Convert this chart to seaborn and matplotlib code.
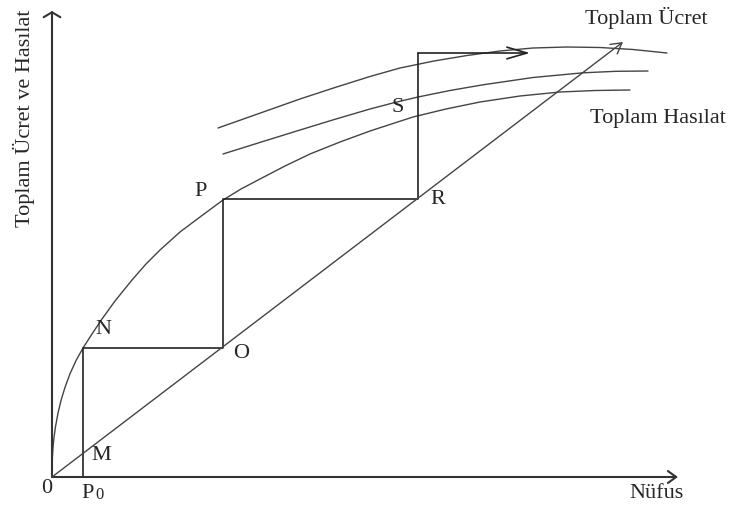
import matplotlib
matplotlib.use("Agg")
import matplotlib.pyplot as plt
import seaborn as sns

# diagram values (population on x, total wage / output on y)
hasilat_x = [0, 0.04, 0.1, 0.2, 0.35, 0.6, 0.9, 1.3, 1.8, 2.4, 3.1, 4.0, 5.0, 6.3, 8.0,
             9.4, 10.8, 12.8, 14.8, 17.1, 18.9, 20.8, 23.3, 25.8, 28.8, 31.8, 36.1,
             39.4, 42.8, 46.8, 50.8, 54.3, 57.8]
hasilat_y = [0, 2.0, 2.96, 3.96, 5.04, 6.39, 7.65, 8.97, 10.32, 11.64, 12.9, 14.3, 15.8,
             17.6, 19.7, 21.3, 22.7, 24.5, 26.0, 27.7, 28.8, 29.8, 31.1, 32.3, 33.5,
             34.6, 36.0, 36.8, 37.5, 38.1, 38.5, 38.65, 38.7]

hasilat2_x = [17.1, 21.0, 24.8, 28.3, 31.8, 34.2, 36.6, 39.8, 43.1, 48.1, 53.1, 56.4, 59.6]
hasilat2_y = [32.3, 33.52, 34.7, 35.77, 36.8, 37.43, 38.0, 38.65, 39.22, 39.95, 40.42,
              40.57, 40.6]

hasilat3_x = [16.6, 20.7, 24.8, 28.3, 31.8, 34.8, 38.2, 41.5, 44.8, 48.1, 51.5, 54.8,
              58.1, 61.5]
hasilat3_y = [34.9, 36.35, 37.8, 38.95, 40.05, 40.9, 41.6, 42.15, 42.6, 42.9, 43.0,
              42.95, 42.75, 42.4]

ucret_x = [0, 57.1]
ucret_y = [0, 43.5]

stair_x = [3.1, 3.1, 17.1, 17.1, 36.6, 36.6]
stair_y = [0, 12.9, 12.9, 27.8, 27.8, 42.4]
stair_end = 47.8

axis_x_max = 62.6
axis_y_max = 46.6

points = {"M": (4.9, 2.2), "N": (5.1, 14.8), "O": (18.9, 12.4), "P": (14.9, 28.6),
          "R": (38.6, 27.9), "S": (34.6, 37.0)}

sns.set_theme(style="white")
plt.rcParams['font.family'] = ['Liberation Serif', 'DejaVu Serif']

fig = plt.figure(figsize=(7.37, 5.10), dpi=100)
ax = fig.add_axes([0, 0, 1, 1])

curve_kw = dict(color='#444444', linewidth=1.0, sort=False, estimator=None, ax=ax)
sns.lineplot(x=hasilat_x, y=hasilat_y, **curve_kw)
sns.lineplot(x=hasilat2_x, y=hasilat2_y, **curve_kw)
sns.lineplot(x=hasilat3_x, y=hasilat3_y, **curve_kw)
sns.lineplot(x=stair_x, y=stair_y, color='#222222', linewidth=1.2, sort=False, estimator=None, ax=ax)

def arrow(x0, y0, x1, y1, hl, hw, lw, color):
    ax.annotate('', xy=(x1, y1), xytext=(x0, y0),
                arrowprops=dict(arrowstyle=f'->,head_length={hl},head_width={hw}',
                                lw=lw, color=color, shrinkA=0, shrinkB=0,
                                mutation_scale=10))

# axes with arrows
arrow(0, 0, axis_x_max, 0, 0.6, 0.43, 1.5, '#333333')
arrow(0, 0, 0, axis_y_max, 0.36, 0.6, 1.5, '#333333')
# total wage line
arrow(ucret_x[0], ucret_y[0], ucret_x[1], ucret_y[1], 0.75, 0.43, 1.0, '#444444')
# last step of the staircase
arrow(stair_x[-1], stair_y[-1], stair_end, stair_y[-1], 1.45, 0.42, 1.2, '#222222')

fs = 16
for name, (px, py) in points.items():
    ax.text(px, py, name, fontsize=fs, ha='center', va='center')
ax.text(-0.5, -1.1, '0', fontsize=fs, ha='center', va='center')
ax.text(3.6, -1.6, 'P', fontsize=fs, ha='center', va='center')
ax.text(4.7, -1.75, '0', fontsize=12, ha='center', va='center')
ax.text(60.4, -1.6, 'Nüfus', fontsize=fs, ha='center', va='center')
ax.text(59.4, 46.0, 'Toplam Ücret', fontsize=fs, ha='center', va='center')
ax.text(60.6, 36.0, 'Toplam Hasılat', fontsize=fs, ha='center', va='center')
ax.text(-2.8, 36.0, 'Toplam Ücret ve Hasılat', fontsize=fs, ha='center', va='center',
        rotation=90)

ax.set_xlim(-5.2, 68.5)
ax.set_ylim(-3.2, 47.8)
ax.set_axis_off()

fig.savefig('out.png', dpi=100)
